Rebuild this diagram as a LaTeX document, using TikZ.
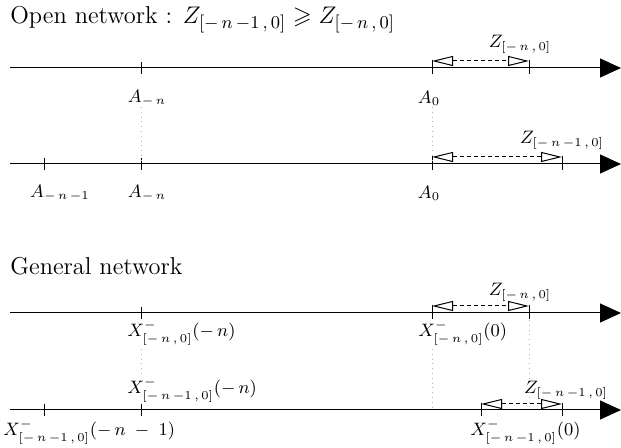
\documentclass[tikz,border=0pt]{standalone}
\usepackage{amssymb}
\usetikzlibrary{arrows.meta}
\begin{document}
\begin{tikzpicture}[x=0.5pt,y=-0.5pt,
 axis/.style={line width=0.5pt,-{Triangle[length=10.5pt,width=9.5pt]}},
 tickmark/.style={line width=0.5pt},
 dim/.style={dash pattern=on 2pt off 1.5pt, line width=0.5pt,
   {Triangle[open,length=10.5pt,width=5pt]}-{Triangle[open,length=10.5pt,width=5pt]}},
 guide/.style={black!30, dotted, line width=0.4pt},
 lbl/.style={font=\fontsize{9}{11}\selectfont, inner sep=0pt},
 ttl/.style={font=\fontsize{12.2}{14}\selectfont, inner sep=0pt, anchor=west}]
\useasboundingbox (0,0) rectangle (621,448);

% ---------- Open network
\node[ttl] (t1) at (10,20) {Open network : $Z_{[-\,n\,-1\,,\,0]}\geqslant Z_{[-\,n\,,\,0]}$};

% line 1
\coordinate (a1s) at (10,68); \coordinate (a1e) at (621,68);
\draw[axis] (a1s) -- (a1e);
\draw[tickmark] (141,62) -- (141,74);
\draw[tickmark] (432,60) -- (432,74);
\draw[tickmark] (529,60) -- (529,74);
\coordinate (z1l) at (432,61); \coordinate (z1r) at (529,61);
\draw[dim] (z1l) -- (z1r);
\node[lbl] (z1) at (520,44) {$Z_{[-\,n\,,\,0]}$};
\node[lbl] (an1) at (147,98) {$A_{-\,n}$};
\node[lbl] (a01) at (429,98) {$A_0$};

% line 2
\coordinate (a2s) at (10,164); \coordinate (a2e) at (621,164);
\draw[axis] (a2s) -- (a2e);
\draw[tickmark] (44,158) -- (44,170);
\draw[tickmark] (141,158) -- (141,170);
\draw[tickmark] (432,156) -- (432,170);
\draw[tickmark] (562,156) -- (562,170);
\coordinate (z2l) at (432,157); \coordinate (z2r) at (562,157);
\draw[dim] (z2l) -- (z2r);
\node[lbl] (z2) at (562,140) {$Z_{[-\,n\,-1\,,\,0]}$};
\node[lbl] (ann2) at (60,193) {$A_{-\,n\,-1}$};
\node[lbl] (an2) at (147,193) {$A_{-\,n}$};
\node[lbl] (a02) at (429,193) {$A_0$};

\draw[guide] (141,107) -- (141,162);
\draw[guide] (432,107) -- (432,162);

% ---------- General network
\node[ttl] (t2) at (10,266) {General network};

% line 3
\coordinate (a3s) at (10,313); \coordinate (a3e) at (621,313);
\draw[axis] (a3s) -- (a3e);
\draw[tickmark] (141,307) -- (141,319);
\draw[tickmark] (432,305) -- (432,319);
\draw[tickmark] (529,305) -- (529,319);
\coordinate (z3l) at (432,306); \coordinate (z3r) at (529,306);
\draw[dim] (z3l) -- (z3r);
\node[lbl] (z3) at (520,292) {$Z_{[-\,n\,,\,0]}$};
\node[lbl,anchor=west] (x3a) at (127,333) {$X^-_{[-\,n\,,\,0]}(-\,n)$};
\node[lbl,anchor=west] (x3b) at (418,333) {$X^-_{[-\,n\,,\,0]}(0)$};

% line 4
\coordinate (a4s) at (10,410); \coordinate (a4e) at (621,410);
\draw[axis] (a4s) -- (a4e);
\draw[tickmark] (44,404) -- (44,416);
\draw[tickmark] (141,404) -- (141,416);
\draw[tickmark] (481,403) -- (481,416);
\draw[tickmark] (562,403) -- (562,416);
\coordinate (z4l) at (481,404); \coordinate (z4r) at (562,404);
\draw[dim] (z4l) -- (z4r);
\node[lbl] (z4) at (566,390) {$Z_{[-\,n\,-1\,,\,0]}$};
\node[lbl,anchor=west] (x4a) at (127,390) {$X^-_{[-\,n\,-1\,,\,0]}(-\,n)$};
\node[lbl,anchor=west] (x4b) at (3,432) {$X^-_{[-\,n\,-1\,,\,0]}(-\,n\;-\;1)$};
\node[lbl,anchor=west] (x4c) at (470,432) {$X^-_{[-\,n\,-1\,,\,0]}(0)$};

\draw[guide] (141,349) -- (141,375);
\draw[guide] (432,349) -- (432,408);
\draw[guide] (529,320) -- (529,408);
\end{tikzpicture}
\end{document}
